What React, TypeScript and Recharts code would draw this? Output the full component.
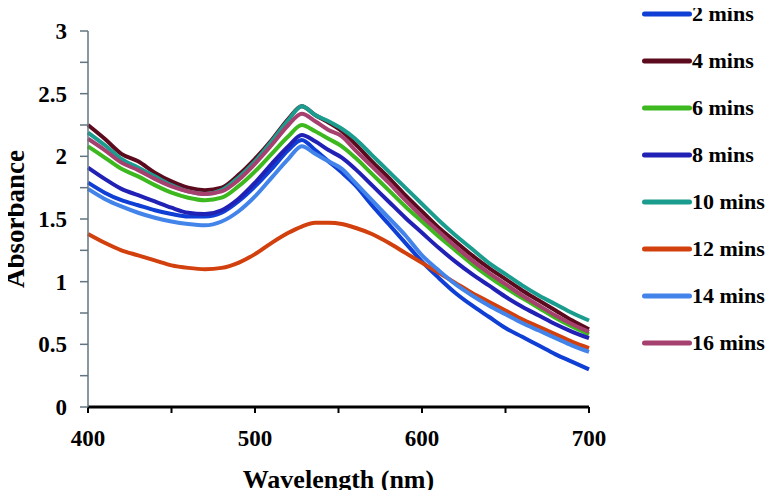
import React from 'react';
import { LineChart, Line, XAxis, YAxis, Legend, Label } from 'recharts';

const wavelengths = [400,410,420,430,440,450,460,470,480,490,500,510,520,528,536,544,552,560,570,580,590,600,610,620,630,640,650,660,670,680,690,700];

const m2 = [1.79,1.71,1.65,1.61,1.57,1.54,1.52,1.52,1.55,1.64,1.76,1.90,2.05,2.13,2.05,1.96,1.87,1.77,1.61,1.46,1.31,1.16,1.03,0.91,0.81,0.72,0.63,0.56,0.49,0.42,0.36,0.30];
const m4 = [2.25,2.14,2.02,1.96,1.87,1.80,1.75,1.73,1.75,1.85,1.98,2.13,2.30,2.40,2.33,2.27,2.20,2.10,1.96,1.83,1.69,1.56,1.43,1.32,1.21,1.11,1.02,0.93,0.85,0.77,0.69,0.62];
const m6 = [2.08,1.99,1.90,1.84,1.77,1.71,1.67,1.65,1.67,1.76,1.88,2.02,2.16,2.25,2.20,2.14,2.08,1.99,1.86,1.73,1.60,1.48,1.36,1.25,1.14,1.04,0.95,0.87,0.79,0.71,0.64,0.58];
const m8 = [1.91,1.82,1.74,1.69,1.64,1.59,1.55,1.54,1.57,1.66,1.79,1.94,2.08,2.17,2.12,2.05,1.99,1.90,1.77,1.64,1.51,1.39,1.27,1.16,1.06,0.97,0.88,0.80,0.73,0.66,0.60,0.55];
const m10 = [2.19,2.09,1.98,1.91,1.84,1.77,1.72,1.70,1.73,1.83,1.96,2.12,2.29,2.40,2.33,2.28,2.22,2.14,2.01,1.88,1.75,1.62,1.49,1.37,1.26,1.15,1.06,0.97,0.89,0.82,0.75,0.69];
const m12 = [1.38,1.31,1.25,1.21,1.17,1.13,1.11,1.10,1.11,1.15,1.22,1.31,1.39,1.44,1.47,1.47,1.46,1.43,1.38,1.31,1.23,1.15,1.07,0.99,0.91,0.84,0.77,0.70,0.64,0.58,0.52,0.47];
const m14 = [1.74,1.66,1.60,1.55,1.51,1.48,1.46,1.45,1.48,1.56,1.68,1.83,1.98,2.08,2.02,1.96,1.90,1.79,1.65,1.51,1.37,1.21,1.09,0.98,0.89,0.81,0.74,0.67,0.61,0.55,0.49,0.44];
const m16 = [2.14,2.05,1.95,1.89,1.82,1.76,1.72,1.70,1.72,1.81,1.94,2.09,2.25,2.34,2.28,2.21,2.16,2.05,1.92,1.79,1.65,1.52,1.40,1.28,1.17,1.07,0.98,0.89,0.81,0.73,0.66,0.60];

const seriesNames = ['2 mins','4 mins','6 mins','8 mins','10 mins','12 mins','14 mins','16 mins'];
const seriesValues = [m2, m4, m6, m8, m10, m12, m14, m16];
const seriesColors = ['#0f3fd4','#5c0b1e','#3db81f','#2121b5','#1a9c8e','#d2400e','#4284ea','#a5406f'];

const xTicks = [400,450,500,550,600,650,700];
const yTicks = [0,0.25,0.5,0.75,1,1.25,1.5,1.75,2,2.25,2.5,2.75,3];

const data = wavelengths.map((w, i) => {
  const row: any = { w };
  seriesNames.forEach((n, k) => { row[n] = seriesValues[k][i]; });
  return row;
});

const FONT = '"Liberation Serif", "Times New Roman", serif';

const renderLegend = (props: any) => {
  const payload = [...(props.payload || [])].sort(
    (a: any, b: any) => seriesNames.indexOf(a.value) - seriesNames.indexOf(b.value)
  );
  return (
    <div style={{ display: 'flex', flexDirection: 'column' }}>
      {payload.map((entry: any) => (
        <div key={entry.value} style={{ height: 47, display: 'flex', alignItems: 'center' }}>
          <svg width={52} height={8} style={{ display: 'block', flex: 'none' }}>
            <line x1={4.5} y1={4} x2={49.5} y2={4} stroke={entry.color} strokeWidth={5} strokeLinecap="round" />
          </svg>
          <span style={{ fontFamily: FONT, fontWeight: 'bold', fontSize: 22, color: '#000', whiteSpace: 'nowrap', lineHeight: '26px' }}>{entry.value}</span>
        </div>
      ))}
    </div>
  );
};

export default function App() {
  return (
    <div style={{ marginLeft: -8, marginTop: -8, marginBottom: -8, width: 774, height: 498 }}>
      <LineChart width={774} height={498} data={data} margin={{ top: 31, right: 185, bottom: 0, left: 0 }}>
        <XAxis
          dataKey="w"
          type="number"
          domain={[400, 700]}
          ticks={xTicks}
          interval={0}
          tickFormatter={(v: number) => (v % 100 === 0 ? String(v) : '')}
          axisLine={{ stroke: '#000', strokeWidth: 3 }}
          tickLine={{ stroke: '#000', strokeWidth: 2 }}
          tickSize={6}
          tickMargin={17}
          height={91}
          tick={{ fill: '#000', fontSize: 23, fontWeight: 'bold', fontFamily: FONT }}
        >
          <Label value="Wavelength (nm)" position="insideBottom" offset={10} style={{ fontFamily: FONT, fontWeight: 'bold', fontSize: 26, fill: '#000' }} />
        </XAxis>
        <YAxis
          type="number"
          domain={[0, 3]}
          ticks={yTicks}
          interval={0}
          width={88}
          tickFormatter={(v: number) => ((v * 2) % 1 === 0 ? String(v) : '')}
          axisLine={{ stroke: '#62747f', strokeWidth: 1.5 }}
          tickLine={{ stroke: '#62747f', strokeWidth: 1.5 }}
          tickSize={8}
          tickMargin={13}
          tick={{ fill: '#000', fontSize: 23, fontWeight: 'bold', fontFamily: FONT }}
        >
          <Label value="Absorbance" angle={-90} position="insideLeft" offset={14} style={{ fontFamily: FONT, fontWeight: 'bold', fontSize: 27, fill: '#000', textAnchor: 'middle' }} />
        </YAxis>
        <Legend
          layout="vertical"
          align="center"
          verticalAlign="middle"
          content={renderLegend}
          wrapperStyle={{ left: 640, top: -10, width: 134, height: 376 }}
        />
        {seriesNames.map((n, k) => (
          <Line key={n} dataKey={n} name={n} type="monotone" stroke={seriesColors[k]} strokeWidth={4} dot={false} isAnimationActive={false} />
        ))}
      </LineChart>
    </div>
  );
}
